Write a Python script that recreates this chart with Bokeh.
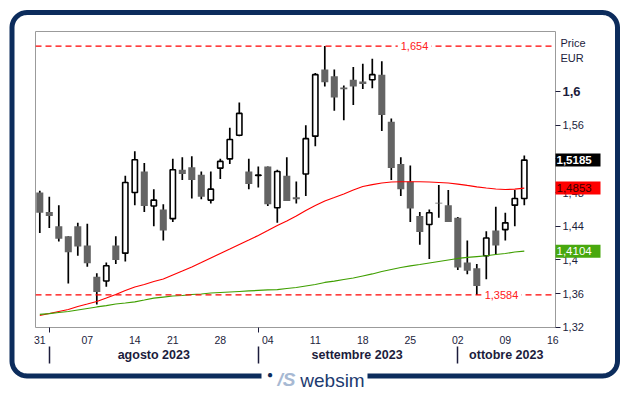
import numpy as np
from bokeh.plotting import figure
from bokeh.models import (Range1d, LinearAxis, FixedTicker, CustomJSTickFormatter,
                          Span, Label, ColumnDataSource)
from bokeh.core.properties import value
from bokeh.embed import file_html
from bokeh.resources import INLINE

# ---------------- data (trading days 31 Jul 2023 .. 11 Oct 2023) ----------------
opens = [1.480, 1.457, 1.440, 1.428, 1.440, 1.417, 1.380, 1.375, 1.417, 1.408,
         1.480, 1.505, 1.464, 1.460, 1.449, 1.507, 1.510, 1.501, 1.471, 1.509,
         1.520, 1.548, 1.505, 1.5004, 1.511, 1.462, 1.500, 1.4745, 1.502, 1.547,
         1.626, 1.618, 1.6048, 1.614, 1.612, 1.614, 1.620, 1.564, 1.514, 1.493,
         1.452, 1.442, 1.468, 1.465, 1.450, 1.397, 1.390, 1.405, 1.435, 1.436,
         1.465, 1.473]
highs = [1.482, 1.475, 1.465, 1.428, 1.444, 1.443, 1.384, 1.397, 1.428, 1.500,
         1.529, 1.515, 1.484, 1.466, 1.520, 1.522, 1.523, 1.505, 1.505, 1.520,
         1.557, 1.587, 1.520, 1.511, 1.511, 1.507, 1.522, 1.493, 1.560, 1.622,
         1.654, 1.626, 1.607, 1.629, 1.633, 1.639, 1.636, 1.568, 1.522, 1.512,
         1.457, 1.460, 1.489, 1.483, 1.451, 1.423, 1.395, 1.434, 1.463, 1.456,
         1.483, 1.524]
lows = [1.432, 1.438, 1.422, 1.372, 1.405, 1.392, 1.347, 1.368, 1.395, 1.398,
        1.465, 1.457, 1.440, 1.423, 1.445, 1.495, 1.473, 1.472, 1.467, 1.496,
        1.514, 1.547, 1.484, 1.486, 1.464, 1.444, 1.470, 1.467, 1.476, 1.535,
        1.606, 1.577, 1.566, 1.584, 1.603, 1.604, 1.553, 1.495, 1.476, 1.445,
        1.418, 1.401, 1.450, 1.445, 1.388, 1.383, 1.3584, 1.377, 1.406, 1.423,
        1.440, 1.465]
closes = [1.456, 1.452, 1.425, 1.409, 1.416, 1.396, 1.362, 1.393, 1.400, 1.492,
          1.519, 1.464, 1.471, 1.435, 1.507, 1.502, 1.495, 1.475, 1.484, 1.517,
          1.543, 1.574, 1.490, 1.5008, 1.466, 1.505, 1.470, 1.472, 1.544, 1.620,
          1.611, 1.593, 1.6027, 1.606, 1.609, 1.620, 1.572, 1.509, 1.484, 1.461,
          1.433, 1.456, 1.467, 1.445, 1.391, 1.387, 1.369, 1.426, 1.417, 1.444,
          1.473, 1.5185]
ma_red = [1.3340, 1.3363, 1.3387, 1.3411, 1.3447, 1.3476, 1.3506, 1.3547, 1.3589, 1.3637,
          1.3678, 1.3708, 1.3743, 1.3773, 1.3821, 1.3868, 1.3916, 1.3969, 1.4023, 1.4076,
          1.4129, 1.4183, 1.4236, 1.4290, 1.4349, 1.4409, 1.4462, 1.4521, 1.4587, 1.4646,
          1.4700, 1.4741, 1.4783, 1.4830, 1.4872, 1.4895, 1.4913, 1.4925, 1.4928, 1.4928,
          1.4928, 1.4925, 1.4919, 1.4913, 1.4901, 1.4884, 1.4868, 1.4854, 1.4842, 1.4836,
          1.4840, 1.4853]
ma_green = [1.3352, 1.3363, 1.3375, 1.3387, 1.3405, 1.3423, 1.3441, 1.3458, 1.3476, 1.3488,
            1.3502, 1.3524, 1.3547, 1.3559, 1.3571, 1.3577, 1.3589, 1.3595, 1.3607, 1.3613,
            1.3619, 1.3625, 1.3631, 1.3637, 1.3643, 1.3648, 1.3660, 1.3672, 1.3690, 1.3708,
            1.3732, 1.3749, 1.3767, 1.3785, 1.3809, 1.3833, 1.3862, 1.3886, 1.3910, 1.3928,
            1.3945, 1.3963, 1.3981, 1.3999, 1.4017, 1.4029, 1.4040, 1.4049, 1.4064, 1.4076,
            1.4094, 1.4104]

day_ticks = [0, 5, 10, 14, 19, 24, 29, 34, 39, 44, 49, 54]
day_labels = ["31", "07", "14", "21", "28", "04", "11", "18", "25", "02", "09", "16"]
month_start_ticks = [1, 23]
month_separators = [1, 23, 44]
month_names = ["agosto 2023", "settembre 2023", "ottobre 2023"]
month_centers = [12.0, 33.4, 49.1]
price_ticks = [1.32, 1.36, 1.40, 1.44, 1.48, 1.52, 1.56, 1.60]
high_level = 1.654
low_level = 1.3584
last_price = 1.5185
red_last = 1.4853
green_last = 1.4104

# ---------------- geometry helpers (page pixels -> data) ----------------
X0, DX = 39.3, 9.5          # page x of first candle, px per trading day
Y0, DY = 91.0, 842.0        # page y of 1.6, px per price unit
def X(px):
    return (px - X0) / DX
def Y(py):
    return 1.6 - (py - Y0) / DY

FONT = "Liberation Sans"
TXT = "#1c1c3c"
NAVY = "#0c2c5c"

p = figure(width=629, height=395, output_backend="svg", toolbar_location=None,
           x_range=Range1d(X(35), X(555)), y_range=Range1d(Y(327), Y(31)),
           x_axis_location=None, y_axis_location=None,
           min_border_left=35, min_border_right=74, min_border_top=31, min_border_bottom=68)
p.grid.grid_line_color = None
p.outline_line_color = "#9b9b9b"
p.outline_line_width = 1
p.background_fill_color = "white"
p.border_fill_color = "white"

# right price axis
yfmt = CustomJSTickFormatter(code="""
if (Math.abs(tick - 1.6) < 1e-9) { return ''; }
return String(Math.round(tick * 100) / 100).replace('.', ',');
""")
yaxis = LinearAxis(ticker=FixedTicker(ticks=price_ticks), formatter=yfmt,
                   axis_line_color=None, major_tick_in=0, major_tick_out=5,
                   major_tick_line_color=TXT, minor_tick_line_color=None,
                   major_label_standoff=2, major_label_text_font=FONT,
                   major_label_text_font_size="11px", major_label_text_color=TXT)
p.add_layout(yaxis, "right")

# bottom day axis
xaxis = LinearAxis(ticker=FixedTicker(ticks=day_ticks, minor_ticks=month_start_ticks),
                   major_label_overrides={t: s for t, s in zip(day_ticks, day_labels)},
                   axis_line_color=None, major_tick_line_color=None,
                   minor_tick_in=0, minor_tick_out=5, minor_tick_line_color=TXT,
                   major_label_standoff=2, major_label_text_font=FONT,
                   major_label_text_font_size="10.5px", major_label_text_color=TXT)
p.add_layout(xaxis, "below")

# month axis: names at month centres, separators as minor ticks
mfmt = CustomJSTickFormatter(args=dict(pos=month_centers, names=month_names), code="""
for (let i = 0; i < pos.length; i++) { if (Math.abs(pos[i] - tick) < 1e-6) return names[i]; }
return '';
""")
maxis = LinearAxis(ticker=FixedTicker(ticks=month_centers, minor_ticks=month_separators),
                   formatter=mfmt, axis_line_color=None, major_tick_line_color=None,
                   major_tick_in=0, major_tick_out=0,
                   minor_tick_in=0, minor_tick_out=17, minor_tick_line_width=1.5,
                   minor_tick_line_color=TXT, major_label_standoff=-16,
                   major_label_text_font=FONT, major_label_text_font_size="12.5px",
                   major_label_text_font_style="bold", major_label_text_color=TXT)
p.add_layout(maxis, "below")

# candles
idx = list(range(len(opens)))
up = [c >= o for o, c in zip(opens, closes)]
p.segment(x0=idx, y0=lows, x1=idx, y1=highs, line_color="black", line_width=1.7)
dn_src = ColumnDataSource(dict(
    x=[i for i in idx if not up[i]],
    top=[opens[i] for i in idx if not up[i]],
    bottom=[closes[i] for i in idx if not up[i]]))
up_src = ColumnDataSource(dict(
    x=[i for i in idx if up[i]],
    top=[closes[i] for i in idx if up[i]],
    bottom=[opens[i] for i in idx if up[i]]))
p.vbar(x="x", top="top", bottom="bottom", width=0.74, source=dn_src,
       fill_color="#646464", line_color=None)
p.vbar(x="x", top="top", bottom="bottom", width=0.56, source=up_src,
       fill_color="white", line_color="black", line_width=1.6)

# moving averages
p.line(idx, ma_red, line_color="#ff0000", line_width=1.2)
p.line(idx, ma_green, line_color="#3f9f00", line_width=1.2)

# high / low reference lines
for lvl, lx in ((high_level, X(414)), (low_level, X(501))):
    p.add_layout(Span(location=lvl, dimension="width", line_color="#ff0000",
                      line_dash="6 4", line_width=1.3))
    txt = ("%.4f" % lvl).rstrip("0").replace(".", ",")
    p.add_layout(Label(x=lx, y=lvl, text=txt, text_align="center", text_baseline="middle",
                       text_font=FONT, text_font_size="11px", text_color="#ff2020",
                       background_fill_color="white", padding=3))

# ---- items outside the frame: glyphs on the overlay level ----
def otext(px, py, s, size, color, style="normal", align="left"):
    p.text(x=[X(px)], y=[Y(py)], text=[s], text_align=align, text_baseline="middle",
           text_font=value(FONT), text_font_size=size, text_font_style=style,
           text_color=color, level="overlay")

otext(562, 91, "1,6", "13px", TXT, "bold")
otext(560, 42, "Price", "11px", TXT)
otext(560, 57, "EUR", "11px", TXT)

half = 6.5 / DY
for val, bg, fg, st in ((last_price, "#000000", "#ffffff", "bold"),
                        (red_last, "#ff0000", "#3a0000", "normal"),
                        (green_last, "#48a80e", "#ffffff", "normal")):
    p.quad(left=[X(555)], right=[X(600)], bottom=[val - half], top=[val + half],
           fill_color=bg, line_color=None, level="overlay")
    p.text(x=[X(556)], y=[val], text=[("%.4f" % val).replace(".", ",")],
           text_align="left", text_baseline="middle", text_font=value(FONT),
           text_font_size="11.5px", text_font_style=st, text_color=fg, level="overlay")

# outer rounded frame with a gap for the logo at the bottom
L, R, T, B, RAD = 11.5, 617.0, 12.0, 375.5, 15.0
def arc(cx, cy, a0, a1):
    a = np.radians(np.linspace(a0, a1, 12))
    return list(cx + RAD * np.cos(a)), list(cy - RAD * np.sin(a))
xs, ys = [261.0], [B]
for (cx, cy, a0, a1) in ((L + RAD, B - RAD, 270, 180), (L + RAD, T + RAD, 180, 90),
                         (R - RAD, T + RAD, 90, 0), (R - RAD, B - RAD, 0, -90)):
    ax, ay = arc(cx, cy, a0, a1)
    xs += ax
    ys += ay
xs.append(367.0)
ys.append(B)
p.line([X(v) for v in xs], [Y(v) for v in ys], line_color=NAVY, line_width=5, level="overlay")

otext(269.5, 374, "●", "10px", NAVY, align="center")
otext(286, 379, "/S", "19px", "#a7b9d3", "bold italic", align="center")
otext(332, 380, "websim", "19px", "#1d3b70", align="center")

open("out.html", "w").write(file_html(p, INLINE))
